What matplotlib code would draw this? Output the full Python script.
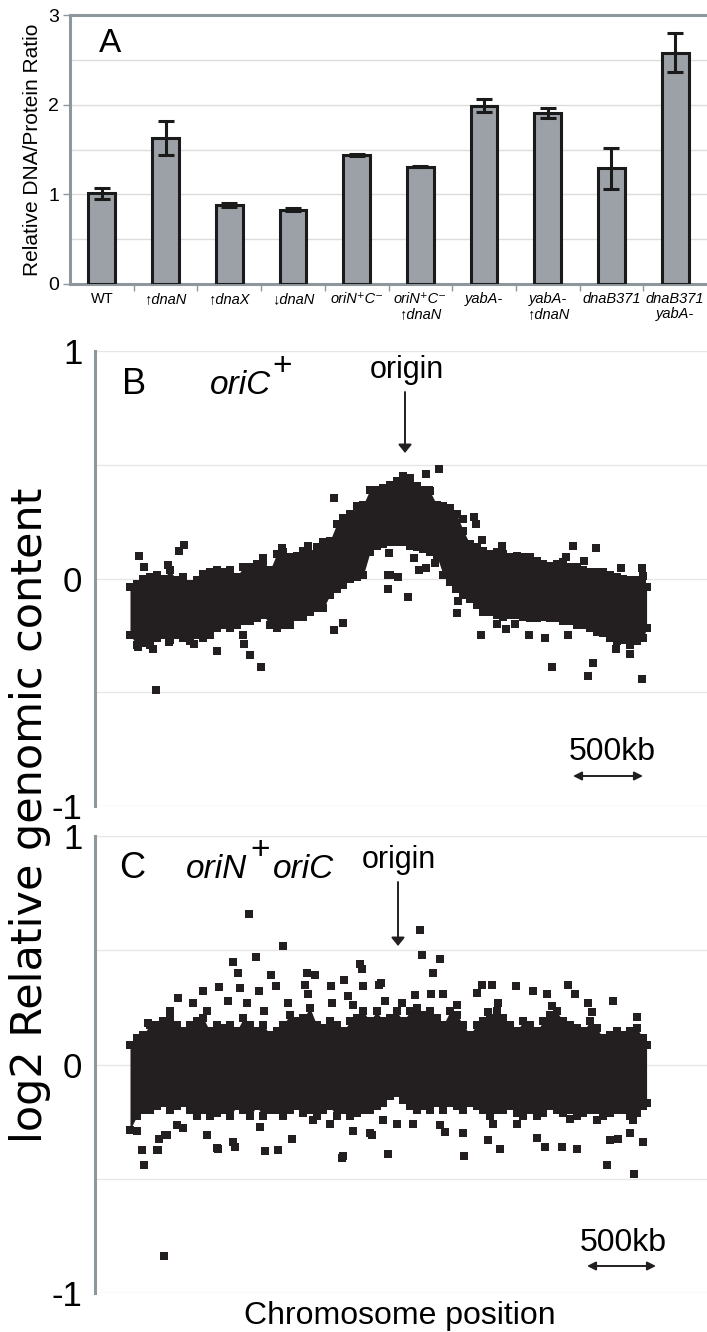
import numpy as np
import matplotlib
matplotlib.use("Agg")
import matplotlib.pyplot as plt
from matplotlib.patches import FancyArrowPatch

plt.rcParams['font.family'] = ['Liberation Sans', 'DejaVu Sans']

# ---------------- Panel A data ----------------
strains = ['WT', '↑dnaN', '↑dnaX', '↓dnaN', 'oriN⁺C⁻', 'oriN⁺C⁻\n↑dnaN',
           'yabA-', 'yabA-\n↑dnaN', 'dnaB371', 'dnaB371\nyabA-']
ratio = [1.01, 1.63, 0.88, 0.83, 1.44, 1.31, 1.99, 1.91, 1.29, 2.58]
ratio_err = [0.065, 0.19, 0.02, 0.02, 0.015, 0.01, 0.075, 0.055, 0.23, 0.22]

# ---------------- Panels B / C: sampled chromosome positions (kb) ----------------
edge_pos = [14, 62, 109, 157, 204, 251, 299, 346, 394, 441, 489, 536, 583, 631, 678,
            726, 773, 821, 868, 915, 963, 1010, 1058, 1105, 1153, 1200, 1247, 1295,
            1342, 1390, 1437, 1485, 1532, 1580, 1627, 1674,
            1722, 1769, 1817, 1864, 1912, 1959, 2006, 2054, 2101, 2149, 2196, 2244,
            2291, 2339, 2386, 2433, 2481, 2528, 2576, 2623, 2671, 2718, 2765, 2813,
            2860, 2908, 2955, 3003, 3050, 3098, 3145, 3192, 3240, 3287, 3335, 3382,
            3430, 3477, 3524, 3572, 3619, 3667, 3690]

# Panel B (oriC+): outer edges of the dense point cloud (log2)
b_edge_hi = [-0.019, -0.004, 0.017, 0.025, 0.032, 0.017, 0.054, 0.010, 0.025, -0.004,
             0.010, 0.039, 0.046, 0.054, 0.046, 0.054, 0.025, 0.068, 0.068, 0.083,
             0.097, 0.054, 0.126, 0.133, 0.112, 0.119, 0.141, 0.126, 0.155, 0.177,
             0.184, 0.257, 0.286, 0.300, 0.336, 0.343,
             0.409, 0.409, 0.416, 0.430, 0.445, 0.467, 0.459, 0.423, 0.409, 0.401,
             0.343, 0.336, 0.329, 0.300, 0.228, 0.170, 0.155, 0.141, 0.126, 0.133,
             0.126, 0.112, 0.119, 0.112, 0.112, 0.097, 0.083, 0.075, 0.083, 0.090,
             0.068, 0.068, 0.054, 0.046, 0.046, 0.046, 0.032, 0.025, 0.017, 0.010,
             0.010, 0.030, -0.020]
b_edge_lo = [-0.265, -0.309, -0.301, -0.309, -0.280, -0.265, -0.287, -0.265, -0.280,
             -0.294, -0.265, -0.280, -0.265, -0.236, -0.222, -0.236, -0.222, -0.207,
             -0.207, -0.193, -0.178, -0.222, -0.236, -0.222, -0.222, -0.186, -0.186,
             -0.164, -0.149, -0.149, -0.091, -0.062, -0.048, -0.019, -0.012, -0.004,
             0.097, 0.126, 0.133, 0.141, 0.141, 0.141, 0.126, 0.119, 0.112, 0.097,
             0.083, -0.004, -0.033, -0.062, -0.091, -0.106, -0.135, -0.164, -0.164,
             -0.178, -0.186, -0.178, -0.178, -0.186, -0.193, -0.193, -0.186, -0.193,
             -0.193, -0.207, -0.207, -0.222, -0.222, -0.236, -0.251, -0.258, -0.280,
             -0.294, -0.287, -0.309, -0.294, -0.280, -0.236]
# Panel B scattered points outside the dense cloud
b_pts_pos = [78, 114, 285, 398, 363, 199, 633, 818, 825, 868, 946, 1466, 1466, 1530,
             1096, 1281, 961, 1850, 1850, 71, 178, 470, 292,
             2120, 2213, 2142, 2462, 2476, 2384, 1857, 1865, 1921, 1992, 2035, 2071,
             2120, 2184, 2341, 2348, 2334, 2512, 2625, 2690, 2754, 2853, 2967, 3017,
             3131, 3166, 3330, 3244, 3308, 3273, 3472, 3572, 3657, 3508, 3657, 3657,
             3116, 2661, 2519]
b_pts_val = [0.10, 0.05, 0.058, 0.148, 0.123, -0.49, -0.32, -0.25, -0.29, -0.335, -0.39,
             0.355, -0.226, -0.196, 0.133, 0.143, 0.09, 0.017, -0.048, -0.30, -0.31, -0.29,
             -0.28,
             0.46, 0.48, 0.39, 0.27, 0.24, 0.26, 0.11, 0.017, 0.006, -0.08, 0.09, 0.036,
             0.046, 0.068, -0.15, -0.10, -0.048, -0.248, -0.20, -0.22, -0.20, -0.248,
             -0.26, -0.39, -0.248, 0.143, 0.133, 0.078, -0.37, -0.43, -0.31, -0.33, -0.44,
             0.046, 0.046, -0.005, 0.094, 0.145, 0.17]

# Panel C (oriN+ oriC-): outer edges of the dense point cloud (log2)
c_edge_hi = [0.105, 0.134, 0.148, 0.192, 0.192, 0.207, 0.221, 0.192, 0.163, 0.192,
             0.207, 0.221, 0.163, 0.192, 0.177, 0.192, 0.163, 0.221, 0.192, 0.163,
             0.192, 0.148, 0.163, 0.192, 0.236, 0.207, 0.221, 0.265, 0.192, 0.177,
             0.207, 0.192, 0.163, 0.207, 0.221, 0.250,
             0.207, 0.250, 0.207, 0.221, 0.250, 0.207, 0.250, 0.265, 0.236, 0.250,
             0.221, 0.192, 0.250, 0.236, 0.192, 0.148, 0.192, 0.207, 0.221, 0.250,
             0.221, 0.192, 0.163, 0.207, 0.192, 0.163, 0.207, 0.236, 0.250, 0.207,
             0.192, 0.177, 0.163, 0.207, 0.177, 0.134, 0.148, 0.163, 0.148, 0.163,
             0.177, 0.134, 0.105]
c_edge_lo = [-0.303, -0.245, -0.216, -0.216, -0.201, -0.186, -0.216, -0.201, -0.186,
             -0.216, -0.245, -0.216, -0.245, -0.230, -0.216, -0.245, -0.201, -0.216,
             -0.245, -0.201, -0.245, -0.216, -0.216, -0.245, -0.216, -0.201, -0.230,
             -0.216, -0.245, -0.216, -0.201, -0.245, -0.216, -0.245, -0.230, -0.216,
             -0.216, -0.201, -0.186, -0.157, -0.143, -0.172, -0.201, -0.216, -0.201,
             -0.216, -0.186, -0.216, -0.186, -0.201, -0.216, -0.186, -0.201, -0.216,
             -0.245, -0.216, -0.216, -0.201, -0.230, -0.245, -0.216, -0.245, -0.230,
             -0.201, -0.216, -0.230, -0.216, -0.245, -0.230, -0.216, -0.216, -0.245,
             -0.230, -0.216, -0.216, -0.245, -0.230, -0.201, -0.186]
# Panel C scattered points outside the dense cloud
c_pts_pos = [861, 1103, 911, 747, 783, 1017, 1053, 932, 797, 647, 534, 356, 712, 462,
             1651, 1665, 1537, 1444, 1565, 1672, 1786, 1274, 1331, 1259, 1138, 968, 847,
             562, 299, 142, 1451, 1601, 1280,
             2078, 2092, 2220, 2170, 1800, 1829, 1950, 2042, 2156, 2241, 2519, 2590, 2483,
             2761, 2882, 2981, 3131, 3180, 3273, 3451, 3622, 2341, 2633, 3017, 3301, 2561,
             64, 100, 206, 221, 277, 391, 349, 562, 640, 747, 975, 1067, 1167, 939, 1530,
             1316, 1437, 1736, 1601,
             1914, 1814, 1850, 2028, 2220, 2255, 2384, 2390, 2561, 2647, 2597, 2768, 2910,
             2967, 3088, 3195, 3429, 3486, 3572, 3664, 3593, 3337, 3145, 1722,
             114, 213, 256, 633, 761, 1523, 263, 3408, 3600]
c_pts_val = [0.66, 0.52, 0.47, 0.45, 0.40, 0.39, 0.345, 0.32, 0.335, 0.34, 0.32, 0.29, 0.28,
             0.27, 0.44, 0.42, 0.37, 0.345, 0.30, 0.345, 0.35, 0.40, 0.39, 0.35, 0.27, 0.235,
             0.27, 0.235, 0.235, 0.18, 0.27, 0.26, 0.31,
             0.59, 0.48, 0.46, 0.40, 0.355, 0.28, 0.27, 0.305, 0.31, 0.31, 0.35, 0.35, 0.315,
             0.345, 0.32, 0.31, 0.35, 0.31, 0.27, 0.28, 0.21, 0.26, 0.27, 0.255, 0.23, 0.23,
             -0.29, -0.375, -0.375, -0.325, -0.31, -0.28, -0.265, -0.31, -0.37, -0.34,
             -0.38, -0.375, -0.325, -0.275, -0.40, -0.245, -0.26, -0.31, -0.29,
             -0.26, -0.245, -0.39, -0.26, -0.265, -0.295, -0.30, -0.40, -0.33, -0.37,
             -0.26, -0.26, -0.32, -0.36, -0.36, -0.37, -0.33, -0.325, -0.30, -0.34, -0.245,
             -0.245, -0.24, -0.30,
             -0.44, -0.375, -0.84, -0.365, -0.36, -0.41, -0.31, -0.44, -0.48]

# ---------------- figure ----------------
W, H = 707, 1332
fig = plt.figure(figsize=(W / 100, H / 100), dpi=100)


def fx(px):
    return px / W


def fy(py):
    return 1 - py / H


GREY = '#8e979c'
GRID = '#dcdcdc'
INK = '#231f20'

# Panel A
axA = fig.add_axes([fx(70), fy(284), fx(707) - fx(70), fy(15) - fy(284)])
xpos = np.arange(len(strains))
axA.bar(xpos, ratio, width=0.42, color='#9ba1a7', edgecolor='#1a1a1a', linewidth=2.2, zorder=3)
axA.errorbar(xpos, ratio, yerr=ratio_err, fmt='none', ecolor='#1a1a1a', elinewidth=2.2,
             capsize=6, capthick=2.2, zorder=4)
axA.set_xlim(-0.5, len(strains) - 0.5)
axA.set_ylim(0, 3)
axA.set_yticks([0, 1, 2, 3])
axA.set_yticklabels(['0', '1', '2', '3'], fontsize=14)
axA.set_yticks([0.5, 1.5, 2.5], minor=True)
axA.grid(axis='y', which='both', color=GRID, lw=1, zorder=0)
axA.set_xticks(xpos)
axA.set_xticklabels(strains, fontsize=10.5, linespacing=1.05)
for i, lab in enumerate(axA.get_xticklabels()):
    if i > 0:
        lab.set_style('italic')
axA.set_xticks(np.arange(0.5, len(strains) - 1, 1.0), minor=True)
axA.tick_params(axis='x', which='major', length=0, pad=6)
axA.tick_params(axis='x', which='minor', length=5, color=GREY, width=1)
axA.tick_params(axis='y', which='major', length=5, color=GREY, width=1, pad=3)
axA.tick_params(axis='y', which='minor', length=0)
for s in ['left', 'top', 'bottom']:
    axA.spines[s].set_color(GREY)
    axA.spines[s].set_linewidth(2.2)
axA.spines['right'].set_visible(False)
axA.set_ylabel('Relative DNA/Protein Ratio', fontsize=15, labelpad=4)
fig.text(fx(110), fy(43), 'A', fontsize=24, ha='center', va='center')

# Panels B and C
XMIN, XMAX = -235, 4120
HALF = 0.018  # half of a square marker, in log2 units


def scatter_panel(ax, pos, lo, hi, pts_pos, pts_val):
    pos = np.asarray(pos)
    lo_c = np.asarray(lo) + HALF
    hi_c = np.asarray(hi) - HALF
    ax.fill_between(pos, lo_c, hi_c, color=INK, lw=0, zorder=3)
    ax.scatter(pos, hi_c, marker='s', s=38, color=INK, lw=0, zorder=3)
    ax.scatter(pos, lo_c, marker='s', s=38, color=INK, lw=0, zorder=3)
    ax.scatter(pts_pos, pts_val, marker='s', s=38, color=INK, lw=0, zorder=3)
    ax.set_xlim(XMIN, XMAX)
    ax.set_ylim(-1, 1)
    ax.set_yticks([-1, 0, 1])
    ax.set_yticklabels(['-1', '0', '1'], fontsize=25)
    ax.set_yticks([-0.5, 0.5], minor=True)
    ax.grid(axis='y', which='both', color='#e6e6e6', lw=1, zorder=0)
    ax.set_xticks([])
    ax.tick_params(axis='y', which='both', length=0, pad=9)
    for s in ['top', 'right', 'bottom']:
        ax.spines[s].set_visible(False)
    ax.spines['left'].set_color(GREY)
    ax.spines['left'].set_linewidth(2.2)


axB = fig.add_axes([fx(95), fy(806), fx(707) - fx(95), fy(351) - fy(806)])
scatter_panel(axB, edge_pos, b_edge_lo, b_edge_hi, b_pts_pos, b_pts_val)
axC = fig.add_axes([fx(95), fy(1293), fx(707) - fx(95), fy(836) - fy(1293)])
scatter_panel(axC, edge_pos, c_edge_lo, c_edge_hi, c_pts_pos, c_pts_val)


def arrow(x0, y0, x1, y1, style):
    fig.add_artist(FancyArrowPatch((fx(x0), fy(y0)), (fx(x1), fy(y1)),
                                   transform=fig.transFigure, arrowstyle=style,
                                   color=INK, lw=1.4, shrinkA=0, shrinkB=0))


# panel annotations
fig.text(fx(134), fy(385), 'B', fontsize=26, ha='center', va='center')
fig.text(fx(241), fy(385), 'oriC', fontsize=24, style='italic', ha='center', va='center')
fig.text(fx(282), fy(366), '+', fontsize=24, ha='center', va='center')
fig.text(fx(407), fy(370), 'origin', fontsize=22, ha='center', va='center')
arrow(405, 392, 405, 453, '-|>,head_length=5,head_width=4')
fig.text(fx(612), fy(752), '500kb', fontsize=23, ha='center', va='center')
arrow(573, 776, 643, 776, '<|-|>,head_length=5,head_width=2.5')

fig.text(fx(132), fy(869), 'C', fontsize=26, ha='center', va='center')
fig.text(fx(217), fy(869), 'oriN', fontsize=24, style='italic', ha='center', va='center')
fig.text(fx(260), fy(850), '+', fontsize=24, ha='center', va='center')
fig.text(fx(304), fy(869), 'oriC', fontsize=24, style='italic', ha='center', va='center')
fig.text(fx(399), fy(860), 'origin', fontsize=22, ha='center', va='center')
arrow(398, 882, 398, 946, '-|>,head_length=5,head_width=4')
fig.text(fx(623), fy(1243), '500kb', fontsize=23, ha='center', va='center')
arrow(587, 1266, 656, 1266, '<|-|>,head_length=5,head_width=2.5')

fig.text(fx(30), fy(815), 'log2 Relative genomic content', fontsize=31, rotation=90,
         ha='center', va='center', family='DejaVu Sans')
fig.text(fx(400), fy(1316), 'Chromosome position', fontsize=23, ha='center', va='center')

fig.savefig('out.png', dpi=100)
